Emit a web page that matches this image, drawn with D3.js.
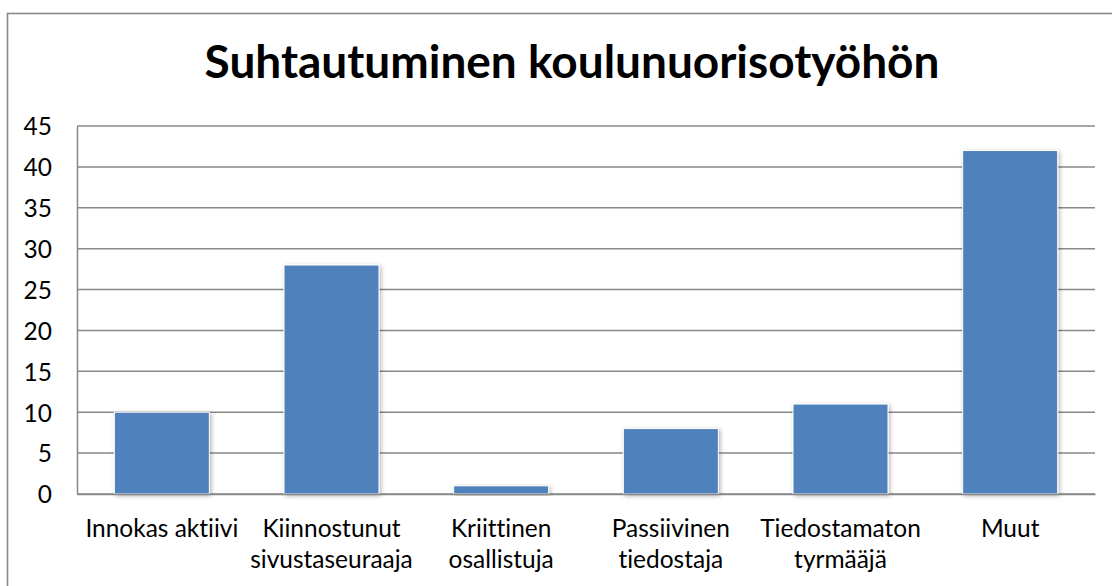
<!DOCTYPE html>
<html>
<head>
<meta charset="utf-8">
<script src="https://cdn.jsdelivr.net/npm/d3@7"></script>
<style>
  body { margin: 0; background: #fff; }
  svg { display: block; font-family: Lato, "Open Sans", sans-serif; }
  svg text { font-variant-ligatures: none; font-feature-settings: "liga" 0, "clig" 0; }
</style>
</head>
<body>
<div id="chart"></div>
<script>
// data
var categories = ["Innokas aktiivi", "Kiinnostunut\nsivustaseuraaja", "Kriittinen\nosallistuja",
                  "Passiivinen\ntiedostaja", "Tiedostamaton\ntyrmääjä", "Muut"];
var values = [10, 28, 1, 8, 11, 42];
var yTicks = [0, 5, 10, 15, 20, 25, 30, 35, 40, 45];
var title = "Suhtautuminen koulunuorisotyöhön";

var W = 1112, H = 586;
var plot = { left: 77, right: 1095, top: 126, bottom: 494 };
var fontFamily = "Lato, 'Open Sans', sans-serif";

var svg = d3.select("#chart").append("svg")
    .attr("width", W)
    .attr("height", H);

// soft shadow like the office chart
var defs = svg.append("defs");
var f = defs.append("filter").attr("id", "shadow")
    .attr("x", "-20%").attr("y", "-20%").attr("width", "140%").attr("height", "140%");
f.append("feDropShadow")
    .attr("dx", 1.5).attr("dy", 1.5).attr("stdDeviation", 2)
    .attr("flood-color", "#000").attr("flood-opacity", 0.3);

// outer border of the chart area (runs off the right and bottom)
svg.append("rect")
    .attr("x", 7.5).attr("y", 13.5)
    .attr("width", W + 20).attr("height", H + 20)
    .attr("fill", "none")
    .attr("stroke", "#898989")
    .attr("stroke-width", 1.6);

var x = d3.scaleBand()
    .domain(categories)
    .range([plot.left, plot.right])
    .paddingInner(0.44)
    .paddingOuter(0.22);

var y = d3.scaleLinear()
    .domain([0, 45])
    .range([plot.bottom, plot.top]);

// measure a label so the text size matches the picture ("Innokas aktiivi" is ~153px wide)
var probe = svg.append("text").style("font-family", fontFamily).style("font-size", "20px").text(categories[0]);
var labelSize = 20 * 153 / probe.node().getComputedTextLength();
probe.remove();

// gridlines
svg.append("g")
    .selectAll("line")
    .data(yTicks)
    .enter()
    .append("line")
    .attr("x1", plot.left).attr("x2", plot.right)
    .attr("y1", d => y(d)).attr("y2", d => y(d))
    .attr("stroke", "#888")
    .attr("stroke-width", 1.5);

// y axis
var yAxis = svg.append("g")
    .attr("transform", "translate(" + plot.left + ",0)")
    .call(d3.axisLeft(y).tickValues(yTicks).tickSize(0).tickPadding(25));
yAxis.attr("font-family", null).attr("font-size", null);
yAxis.select(".domain").attr("stroke", "#888").attr("stroke-width", 1.5);
yAxis.selectAll("text")
    .style("font-family", fontFamily)
    .style("font-size", labelSize + "px")
    .attr("fill", "#000")
    .attr("dy", "0.36em");

// bars
svg.append("g")
    .selectAll("rect")
    .data(values)
    .enter()
    .append("rect")
    .attr("x", (d, i) => x(categories[i]))
    .attr("y", d => y(d))
    .attr("width", x.bandwidth())
    .attr("height", d => y(0) - y(d))
    .attr("fill", "#4F81BD")
    .attr("stroke", "#ffffff")
    .attr("stroke-width", 1)
    .attr("filter", "url(#shadow)");

// x axis
var xAxis = svg.append("g")
    .attr("transform", "translate(0," + plot.bottom + ")")
    .call(d3.axisBottom(x).tickSize(0).tickFormat(""));
xAxis.select(".domain").attr("stroke", "#888").attr("stroke-width", 1.5);

// category labels, wrapped on \n
var labels = svg.append("g")
    .selectAll("text")
    .data(categories)
    .enter()
    .append("text")
    .attr("text-anchor", "middle")
    .attr("fill", "#000")
    .style("font-family", fontFamily)
    .style("font-size", labelSize + "px");
labels.each(function (d) {
    var t = d3.select(this);
    var cx = x(d) + x.bandwidth() / 2;
    d.split("\n").forEach(function (line, k) {
        t.append("tspan")
            .attr("x", cx)
            .attr("y", 537 + k * 31)
            .text(line);
    });
});

// title, sized to match the width in the picture
var titleText = svg.append("text")
    .attr("x", 572)
    .attr("y", 78)
    .attr("text-anchor", "middle")
    .style("font-family", fontFamily)
    .style("font-weight", "bold")
    .style("font-size", "40px")
    .attr("fill", "#000")
    .text(title);
var tw = titleText.node().getComputedTextLength();
titleText.style("font-size", (40 * 735 / tw) + "px");
</script>
</body>
</html>
